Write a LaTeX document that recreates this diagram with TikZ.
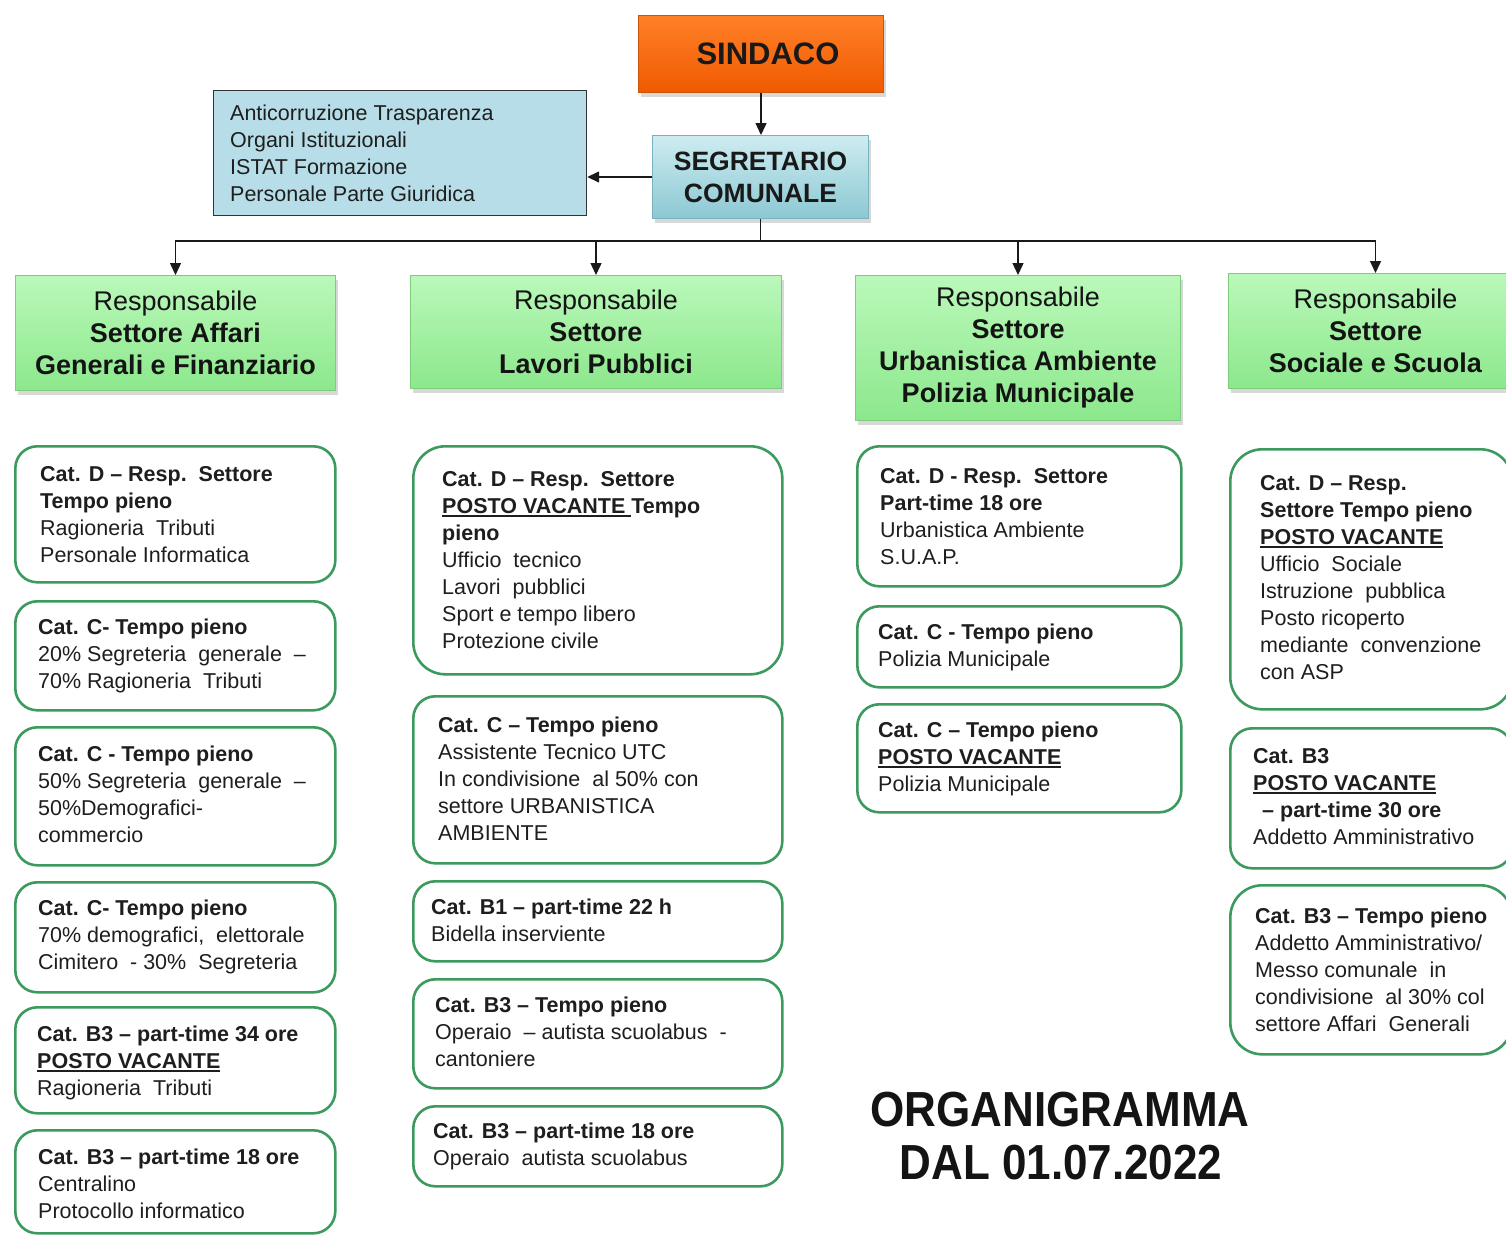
\documentclass[tikz,border=0pt]{standalone}
\usepackage{fontspec}
\setmainfont{Liberation Sans}
\usepackage{graphicx}
\usetikzlibrary{arrows.meta,shadows}
\definecolor{boxgreen}{RGB}{60,154,95}
\definecolor{hdrtop}{RGB}{186,248,186}
\definecolor{hdrbot}{RGB}{140,232,140}
\definecolor{hdrline}{RGB}{125,205,125}
\definecolor{orgtop}{RGB}{255,128,40}
\definecolor{orgbot}{RGB}{240,90,0}
\definecolor{orgline}{RGB}{205,85,10}
\definecolor{segtop}{RGB}{205,236,241}
\definecolor{segbot}{RGB}{140,200,211}
\definecolor{segline}{RGB}{120,178,190}
\definecolor{lboxfill}{RGB}{183,222,232}
\definecolor{txtcol}{RGB}{30,30,30}
\newsavebox\pvbox
\newcommand{\pv}[1]{\sbox\pvbox{\bfseries #1}\rlap{\rule[-3.5pt]{\wd\pvbox}{1.8pt}}\usebox\pvbox}
\tikzset{
  txt/.style={inner sep=0pt, align=left, anchor=north west, text=txtcol, font=\fontsize{21.5}{27}\selectfont},
  rbox/.style={draw=boxgreen, line width=2.6pt, rounded corners=22pt, fill=white, inner sep=0pt, anchor=north west},
  bigrbox/.style={rbox, rounded corners=32pt},
  hdr/.style={draw=hdrline, line width=1pt, top color=hdrtop, bottom color=hdrbot, inner sep=0pt, anchor=north west, align=center, text=black!92, font=\fontsize{27}{32}\selectfont, drop shadow={shadow xshift=2pt, shadow yshift=-4pt, opacity=0.3}},
  arr/.style={line width=1.4pt, draw=black!90, -{Triangle[length=12pt,width=11pt]}},
  lnk/.style={line width=1.4pt, draw=black!90}
}
\begin{document}
\begin{tikzpicture}[x=1pt,y=-1pt]
\useasboundingbox (0,0) rectangle (1506,1235);
\fill[white] (0,0) rectangle (1506,1235);

% top
\node[draw=orgline, line width=1pt, top color=orgtop, bottom color=orgbot, minimum width=245pt, minimum height=77pt, anchor=north west, inner sep=0pt, font=\fontsize{31}{36}\selectfont\bfseries, text=black!90, drop shadow={shadow xshift=2pt, shadow yshift=-4pt, opacity=0.3}] (sind) at (638,15) {\hspace*{14pt}SINDACO};
\node[draw=segline, line width=1pt, top color=segtop, bottom color=segbot, minimum width=216pt, minimum height=83pt, anchor=north west, inner sep=0pt, align=center, font=\fontsize{26.5}{32}\selectfont\bfseries, text=black!90, drop shadow={shadow xshift=2pt, shadow yshift=-4pt, opacity=0.3}] (seg) at (652,135) {SEGRETARIO\\COMUNALE};
\node[draw=black!80, line width=1.2pt, fill=lboxfill, minimum width=373pt, minimum height=125pt, anchor=north west, inner sep=0pt] (lbox) at (213,90) {};
\node[txt] (lboxt) at (230,104.3) {Anticorruzione Trasparenza\\Organi Istituzionali\\ISTAT Formazione\\Personale Parte Giuridica};

\draw[arr] (sind.south) -- (sind.south |- seg.north);
\draw[arr] (seg.west) -- (seg.west -| lbox.east);

% headers
\node[hdr, minimum width=320pt, minimum height=115pt] (h1) at (15,275) {Responsabile\\\textbf{Settore Affari}\\\textbf{Generali e Finanziario}};
\node[hdr, minimum width=371pt, minimum height=113pt] (h2) at (410,275) {Responsabile\\\textbf{Settore}\\\textbf{Lavori Pubblici}};
\node[hdr, minimum width=325pt, minimum height=145pt] (h3) at (855,275) {Responsabile\\\textbf{Settore}\\\textbf{Urbanistica Ambiente}\\\textbf{Polizia Municipale}};
\node[hdr, minimum width=294pt, minimum height=115pt] (h4) at (1228,273) {Responsabile\\\textbf{Settore}\\\textbf{Sociale e Scuola}};

\path (seg.south) ++(0,22) coordinate (bus);
\draw[lnk] (seg.south) -- (bus);
\draw[arr] (bus) -| (h1.north);
\draw[arr] (bus) -| (h2.north);
\draw[arr] (bus) -| (h3.north);
\draw[arr] (bus) -| (h4.north);

% column 1
\node[rbox, minimum width=320pt, minimum height=136pt] (b1a) at (14,445) {};
\node[txt] (t1a) at (40,466) {\textbf{Cat. D – Resp.\ \ Settore}\\\textbf{Tempo pieno}\\Ragioneria\ \ Tributi\\Personale Informatica};
\node[rbox, minimum width=320pt, minimum height=109pt] (b1b) at (14,600) {};
\node[txt] (t1b) at (38,619) {\textbf{Cat. C- Tempo pieno}\\20\% Segreteria\ \ generale\ \ –\\70\% Ragioneria\ \ Tributi};
\node[rbox, minimum width=320pt, minimum height=138pt] (b1c) at (14,726) {};
\node[txt] (t1c) at (38,746) {\textbf{Cat. C - Tempo pieno}\\50\% Segreteria\ \ generale\ \ –\\50\%Demografici-\\commercio};
\node[rbox, minimum width=320pt, minimum height=110pt] (b1d) at (14,881) {};
\node[txt] (t1d) at (38,900) {\textbf{Cat. C- Tempo pieno}\\70\% demografici,\ \ elettorale\\Cimitero\ \ - 30\%\ \ Segreteria};
\node[rbox, minimum width=320pt, minimum height=106pt] (b1e) at (14,1006) {};
\node[txt] (t1e) at (37,1026) {\textbf{Cat. B3 – part-time 34 ore}\\\pv{POSTO VACANTE}\\Ragioneria\ \ Tributi};
\node[rbox, minimum width=320pt, minimum height=103pt] (b1f) at (14,1129) {};
\node[txt] (t1f) at (38,1149) {\textbf{Cat. B3 – part-time 18 ore}\\Centralino\\Protocollo informatico};

% column 2
\node[bigrbox, minimum width=369pt, minimum height=228pt] (b2a) at (412,445) {};
\node[txt] (t2a) at (442,471) {\textbf{Cat. D – Resp.\ \ Settore}\\\pv{POSTO VACANTE\ }\textbf{Tempo}\\\textbf{pieno}\\Ufficio\ \ tecnico\\Lavori\ \ pubblici\\Sport e tempo libero\\Protezione civile};
\node[rbox, minimum width=369pt, minimum height=167pt] (b2b) at (412,695) {};
\node[txt] (t2b) at (438,717) {\textbf{Cat. C – Tempo pieno}\\Assistente Tecnico UTC\\In condivisione\ \ al 50\% con\\settore URBANISTICA\\AMBIENTE};
\node[rbox, minimum width=369pt, minimum height=80pt] (b2c) at (412,880) {};
\node[txt] (t2c) at (431,899) {\textbf{Cat. B1 – part-time 22 h}\\Bidella inserviente};
\node[rbox, minimum width=369pt, minimum height=109pt] (b2d) at (412,978) {};
\node[txt] (t2d) at (435,997) {\textbf{Cat. B3 – Tempo pieno}\\Operaio\ \ – autista scuolabus\ \ -\\cantoniere};
\node[rbox, minimum width=369pt, minimum height=80pt] (b2e) at (412,1105) {};
\node[txt] (t2e) at (433,1123) {\textbf{Cat. B3 – part-time 18 ore}\\Operaio\ \ autista scuolabus};

% column 3
\node[rbox, minimum width=324pt, minimum height=140pt] (b3a) at (856,445) {};
\node[txt] (t3a) at (880,468) {\textbf{Cat. D - Resp.\ \ Settore}\\\textbf{Part-time 18 ore}\\Urbanistica Ambiente\\S.U.A.P.};
\node[rbox, minimum width=324pt, minimum height=81pt] (b3b) at (856,605) {};
\node[txt] (t3b) at (878,624) {\textbf{Cat. C - Tempo pieno}\\Polizia Municipale};
\node[rbox, minimum width=324pt, minimum height=108pt] (b3c) at (856,703) {};
\node[txt] (t3c) at (878,722) {\textbf{Cat. C – Tempo pieno}\\\pv{POSTO VACANTE}\\Polizia Municipale};

% column 4
\node[bigrbox, minimum width=282pt, minimum height=260pt] (b4a) at (1229,448) {};
\node[txt] (t4a) at (1260,475) {\textbf{Cat. D – Resp.}\\\textbf{Settore Tempo pieno}\\\pv{POSTO VACANTE}\\Ufficio\ \ Sociale\\Istruzione\ \ pubblica\\Posto ricoperto\\mediante\ \ convenzione\\con ASP};
\node[rbox, minimum width=282pt, minimum height=140pt] (b4b) at (1229,727) {};
\node[txt] (t4b) at (1253,748) {\textbf{Cat. B3}\\\pv{POSTO VACANTE}\\\hspace*{9pt}\textbf{– part-time 30 ore}\\Addetto Amministrativo};
\node[bigrbox, minimum width=282pt, minimum height=169pt] (b4c) at (1229,884) {};
\node[txt] (t4c) at (1255,908) {\textbf{Cat. B3 – Tempo pieno}\\Addetto Amministrativo/\\Messo comunale\ \ in\\condivisione\ \ al 30\% col\\settore Affari\ \ Generali};

% title
\node[inner sep=0pt, font=\fontsize{44}{50}\selectfont\bfseries, text=black!92] (title1) at (1060,1110) {\scalebox{1}[1.12]{ORGANIGRAMMA}};
\node[inner sep=0pt, font=\fontsize{44}{50}\selectfont\bfseries, text=black!92] (title2) at (1061,1163) {\scalebox{1}[1.12]{DAL 01.07.2022}};
\end{tikzpicture}
\end{document}
